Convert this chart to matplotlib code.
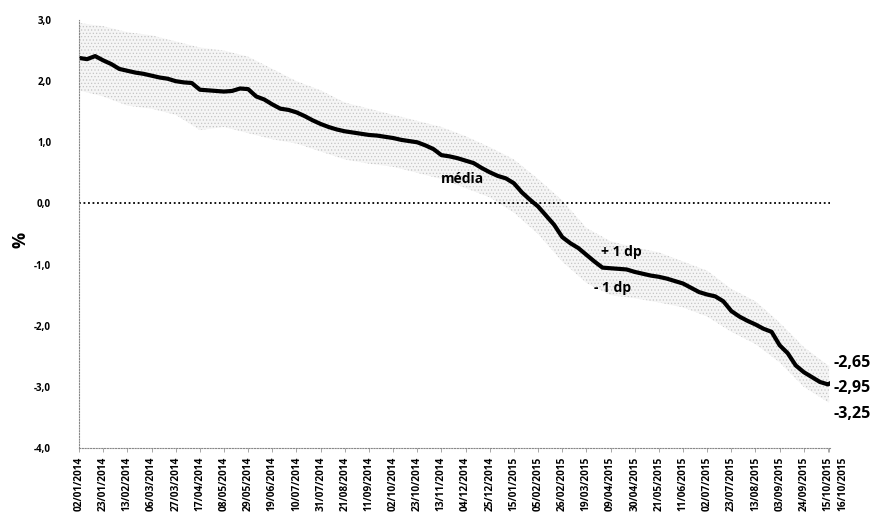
import matplotlib
matplotlib.use("Agg")
import matplotlib.pyplot as plt
import matplotlib.transforms as mtransforms
import pandas as pd

# weekly mean (Thursdays from 02/01/2014 to 15/10/2015) plus last day 16/10/2015
media = [2.38, 2.36, 2.41, 2.34, 2.28, 2.20, 2.17, 2.14, 2.12, 2.09,
         2.06, 2.04, 2.00, 1.98, 1.97, 1.86, 1.85, 1.84, 1.83, 1.84,
         1.88, 1.87, 1.75, 1.70, 1.62, 1.55, 1.53, 1.49, 1.43, 1.36,
         1.30, 1.25, 1.21, 1.18, 1.16, 1.14, 1.12, 1.11, 1.09, 1.07,
         1.04, 1.02, 1.00, 0.95, 0.89, 0.79, 0.77, 0.74, 0.70, 0.66,
         0.58, 0.51, 0.45, 0.41, 0.33, 0.18, 0.06, -0.05, -0.20, -0.35,
         -0.55, -0.65, -0.73, -0.84, -0.95, -1.05, -1.06, -1.07, -1.08, -1.12,
         -1.15, -1.18, -1.20, -1.23, -1.27, -1.31, -1.38, -1.45, -1.49, -1.52,
         -1.60, -1.76, -1.85, -1.92, -1.98, -2.05, -2.10, -2.32, -2.45, -2.65,
         -2.76, -2.84, -2.92, -2.96, -2.95]

# +1 dp / -1 dp band, read every three weeks (tick dates)
mais_dp = [2.95, 2.90, 2.80, 2.75, 2.65, 2.55, 2.50, 2.40, 2.20, 2.00,
           1.85, 1.65, 1.55, 1.45, 1.35, 1.25, 1.10, 0.92, 0.72, 0.40,
           0.05, -0.40, -0.62, -0.72, -0.80, -0.95, -1.10, -1.40, -1.60, -1.95,
           -2.35, -2.65, -2.65]
menos_dp = [1.85, 1.75, 1.60, 1.55, 1.45, 1.20, 1.25, 1.15, 1.05, 0.98,
            0.85, 0.72, 0.65, 0.60, 0.50, 0.40, 0.25, 0.10, -0.15, -0.50,
            -0.95, -1.30, -1.50, -1.55, -1.62, -1.70, -1.85, -2.10, -2.30, -2.60,
            -3.00, -3.25, -3.25]

semanas = list(pd.date_range("2014-01-02", "2015-10-15", freq="7D")) + [pd.Timestamp("2015-10-16")]
ticks = list(pd.date_range("2014-01-02", "2015-10-15", freq="21D")) + [pd.Timestamp("2015-10-16")]
tick_labels = [d.strftime("%d/%m/%Y") for d in ticks]
y_ticks = [3, 2, 1, 0, -1, -2, -3, -4]
y_labels = ["3,0", "2,0", "1,0", "0,0", "-1,0", "-2,0", "-3,0", "-4,0"]

plt.rcParams['font.family'] = ['Open Sans', 'DejaVu Sans']
plt.rcParams['hatch.color'] = '#c4c4c4'
plt.rcParams['hatch.linewidth'] = 0.5

fig = plt.figure(figsize=(8.8, 5.16), dpi=100)
ax = fig.add_axes([0.0898, 0.1318, 0.8537, 0.8294])

ax.fill_between(ticks, menos_dp, mais_dp, facecolor='#f5f5f5', hatch='.....',
                edgecolor='#c4c4c4', linewidth=0)
ax.axhline(0, color='black', linestyle=(0, (1, 1.5)), linewidth=1.3)
ax.plot(semanas, media, color='black', linewidth=3)

ax.set_xlim(pd.Timestamp("2014-01-02"), pd.Timestamp("2015-10-17"))
ax.set_ylim(-4, 3)
ax.set_yticks(y_ticks)
ax.set_yticklabels(y_labels, fontsize=7, fontweight='bold')
ax.set_xticks(ticks)
ax.set_xticklabels(tick_labels, rotation=90, fontsize=7.3, fontweight='bold')
ax.tick_params(axis='y', length=0, pad=20)
ax.tick_params(axis='x', length=3, width=0.6, color='#999999', pad=3)

# last label sits a bit to the right so it does not overlap
last = ax.get_xticklabels()[-1]
last.set_transform(last.get_transform() + mtransforms.ScaledTranslation(0.14, 0, fig.dpi_scale_trans))

for s in ['top', 'right']:
    ax.spines[s].set_visible(False)
for s in ['left', 'bottom']:
    ax.spines[s].set_linestyle((0, (1, 1.5)))
    ax.spines[s].set_color('#888888')
    ax.spines[s].set_linewidth(0.8)

fig.text(0.013, 0.535, '%', rotation=90, fontsize=13, fontweight='bold', va='center')

ax.text(pd.Timestamp("2014-12-01"), 0.40, 'média', fontsize=10, fontweight='bold', ha='center', va='center')
ax.text(pd.Timestamp("2015-04-18"), -0.80, '+ 1 dp', fontsize=10, fontweight='bold', ha='center', va='center')
ax.text(pd.Timestamp("2015-04-11"), -1.38, '- 1 dp', fontsize=10, fontweight='bold', ha='center', va='center')
for v, lab in [(-2.61, '-2,65'), (-3.02, '-2,95'), (-3.44, '-3,25')]:
    ax.text(1.004, v, lab, transform=ax.get_yaxis_transform(), fontsize=11.5,
            fontweight='bold', ha='left', va='center', clip_on=False)

fig.savefig('out.png', dpi=100)
